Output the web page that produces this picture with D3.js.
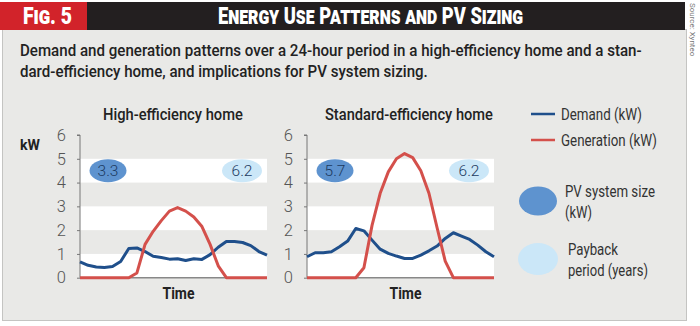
<!DOCTYPE html>
<html><head><meta charset="utf-8">
<script src="https://cdn.jsdelivr.net/npm/d3@7"></script>
<style>
html,body{margin:0;padding:0;background:#fff;}
svg{display:block;}
</style></head>
<body>
<svg id="c" width="700" height="326"></svg>
<script>
// ---------- data ----------
const hours = [0,1,2,3,4,5,6,7,8,9,10,11,12,13,14,15,16,17,18,19,20,21,22,23];
const yTicks = [0,1,2,3,4,5,6];
const highDemand = [0.67,0.52,0.45,0.43,0.47,0.68,1.23,1.25,1.1,0.9,0.85,0.78,0.8,0.72,0.8,0.77,0.97,1.28,1.52,1.52,1.48,1.35,1.1,0.95];
const highGeneration = [0,0,0,0,0,0,0,0.2,1.4,1.95,2.4,2.8,2.95,2.8,2.55,2.15,1.4,0.5,0,0,0,0,0,0];
const stdDemand = [0.88,1.05,1.05,1.09,1.3,1.54,2.07,1.97,1.58,1.2,1.02,0.91,0.81,0.81,0.95,1.13,1.33,1.65,1.89,1.75,1.61,1.37,1.09,0.88];
const stdGeneration = [0,0,0,0,0,0,0,0.42,2.2,3.55,4.45,5.0,5.22,5.05,4.5,3.55,2.1,0.7,0,0,0,0,0,0];
const panelTitles = ["High-efficiency home","Standard-efficiency home"];
const pvSize = [3.3, 5.7];
const payback = [6.2, 6.2];
const seriesNames = ["Demand (kW)","Generation (kW)"];
const bubbleLegend = [["PV system size","(kW)"],["Payback","period (years)"]];

// ---------- styles ----------
const FONT = "Roboto,'Liberation Sans',sans-serif";
const C_BLUE = "#1f4f8b", C_RED = "#d4504b";
const C_DARK = "#5e93cf", C_LIGHT = "#cbe7f8";
const C_BG = "#e9e9e7";

const svg = d3.select("#c");
// place a text at (x,y) and squeeze it horizontally to width w (condensed look)
function fitText(parent, x, y, w, str){
  const t = parent.append("text").attr("x",0).attr("y",0).text(str);
  return {t, apply(){
    const len = t.node().getComputedTextLength();
    t.attr("transform",`translate(${x},${y}) scale(${w/len},1)`);
    return t;
  }};
}
function fit(parent,x,y,w,str,styler){
  const f = fitText(parent,x,y,w,str);
  if(styler) styler(f.t);
  return f.apply();
}

// panel
svg.append("rect").attr("x",2.5).attr("y",29.5).attr("width",684).attr("height",291)
  .attr("fill",C_BG).attr("stroke","#c4c4c2");
// header
svg.append("rect").attr("x",0).attr("y",2).attr("width",685).attr("height",28).attr("fill","#231f20");
svg.append("rect").attr("x",0).attr("y",2).attr("width",87).attr("height",28).attr("fill","#d2232a");
const hdr = t=>t.attr("fill","#fff").attr("font-family",FONT).attr("font-weight","900")
  .attr("font-size",24).attr("font-variant","small-caps");
fit(svg,23,24,49,"Fig. 5",hdr);
fit(svg,218,24,305,"Energy Use Patterns and PV Sizing",hdr);
svg.append("text").attr("transform","translate(690,3) rotate(90)")
  .attr("font-family",FONT).attr("font-size",8).attr("fill","#777").text("Source: Xynteo");

// subtitle
const subLines = ["Demand and generation patterns over a 24-hour period in a high-efficiency home and a stan-",
                  "dard-efficiency home, and implications for PV system sizing."];
const subW = [622, 408];
subLines.forEach((s,i)=>{
  fit(svg,20,56+i*20.5,subW[i],s,t=>t.attr("font-family",FONT).attr("font-size",17)
    .attr("fill","#222").attr("font-weight","500"));
});

// ---------- charts ----------
const panels = [
  {x0:80, x1:267, demand:highDemand, gen:highGeneration, titleX:103, titleW:140},
  {x0:307, x1:494, demand:stdDemand, gen:stdGeneration, titleX:325, titleW:168}
];
const y = d3.scaleLinear().domain([0,6]).range([277.7,135]);

panels.forEach((p,pi)=>{
  const x = d3.scaleLinear().domain([hours[0],hours[hours.length-1]]).range([p.x0,p.x1]);
  const g = svg.append("g");
  // bands
  [[0,1],[2,3],[4,5]].forEach(b=>{
    g.append("rect").attr("x",p.x0).attr("width",p.x1-p.x0)
      .attr("y",y(b[1])).attr("height",y(b[0])-y(b[1])).attr("fill","#fff");
  });
  // y axis
  const ax = g.append("g").attr("transform",`translate(${p.x0},0)`)
    .call(d3.axisLeft(y).tickValues(yTicks).tickFormat(d3.format("d")).tickSize(3).tickPadding(11));
  ax.select(".domain").attr("stroke","#777").attr("d",`M-3,${y(6)}H0V${y(0)}`);
  ax.selectAll(".tick line").attr("stroke","#777");
  ax.selectAll(".tick text").attr("font-family",FONT).attr("font-weight",300)
    .attr("font-size",16.5).attr("fill","#555");
  // x axis line
  g.append("line").attr("x1",p.x0).attr("x2",p.x1).attr("y1",y(0)).attr("y2",y(0))
    .attr("stroke","#888").attr("stroke-width",1.5);
  // lines
  const line = d3.line().x((d,i)=>x(hours[i])).y(d=>y(d));
  g.append("path").datum(p.demand).attr("d",line).attr("fill","none")
    .attr("stroke",C_BLUE).attr("stroke-width",3).attr("stroke-linejoin","round");
  g.append("path").datum(p.gen).attr("d",line).attr("fill","none")
    .attr("stroke",C_RED).attr("stroke-width",3).attr("stroke-linejoin","round");
  // bubbles
  const by = y(4.5);
  g.append("ellipse").attr("cx",p.x0+28).attr("cy",by).attr("rx",18.5).attr("ry",11.5).attr("fill",C_DARK);
  g.append("text").attr("x",p.x0+28).attr("y",by).attr("dy","0.36em").attr("text-anchor","middle")
    .attr("font-family",FONT).attr("font-weight",300).attr("font-size",15.5).attr("fill","#1c3a60").text(pvSize[pi]);
  g.append("ellipse").attr("cx",p.x1-25).attr("cy",by).attr("rx",20).attr("ry",11.5).attr("fill",C_LIGHT);
  g.append("text").attr("x",p.x1-25).attr("y",by).attr("dy","0.36em").attr("text-anchor","middle")
    .attr("font-family",FONT).attr("font-weight",300).attr("font-size",15.5).attr("fill","#1c3a60").text(payback[pi]);
  // titles
  fit(g,p.titleX,120,p.titleW,panelTitles[pi],t=>t.attr("font-family",FONT).attr("font-size",17)
    .attr("font-weight","500").attr("fill","#222"));
  fit(g,(p.x0+p.x1)/2+5-16,299,32,"Time",t=>t.attr("font-family",FONT).attr("font-size",17)
    .attr("font-weight","bold").attr("fill","#222"));
});
fit(svg,20,150,20,"kW",t=>t.attr("font-family",FONT).attr("font-weight","bold")
  .attr("font-size",15).attr("fill","#222"));

// ---------- legend ----------
const lg = svg.append("g").attr("font-family",FONT).attr("font-size",16).attr("fill","#333");
const serW = [81, 96];
[C_BLUE,C_RED].forEach((c,i)=>{
  const yy = 114 + i*26;
  lg.append("line").attr("x1",531).attr("x2",555).attr("y1",yy).attr("y2",yy).attr("stroke",c).attr("stroke-width",2.5);
  fit(lg,561,yy+6,serW[i],seriesNames[i]);
});
const bubW = [[90,27],[50,80]];
[[C_DARK,201,14.5,19],[C_LIGHT,259,16,20]].forEach((e,i)=>{
  lg.append("ellipse").attr("cx",538).attr("cy",e[1]).attr("rx",e[3]).attr("ry",e[2]).attr("fill",e[0]);
  fit(lg,i?568:565,e[1]-4,bubW[i][0],bubbleLegend[i][0]);
  fit(lg,i?568:565,e[1]+17,bubW[i][1],bubbleLegend[i][1]);
});
</script>
</body></html>
